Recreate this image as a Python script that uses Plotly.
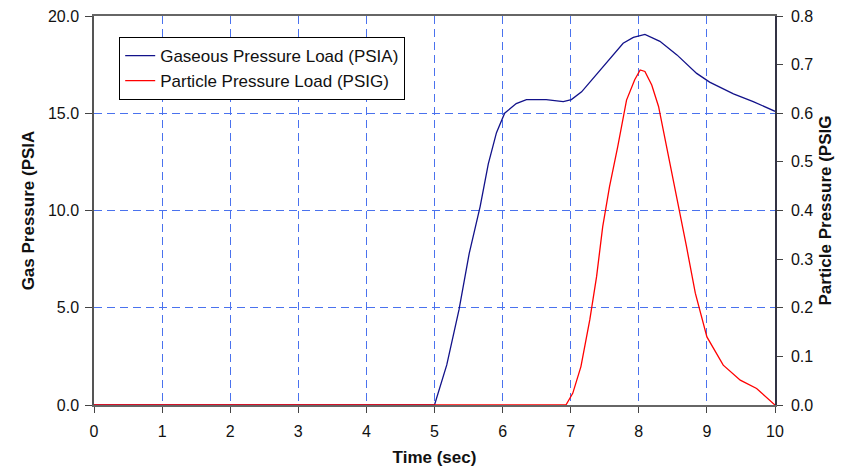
import plotly.graph_objects as go

# Gaseous pressure load (PSIA), left axis
time_gas = [0, 1, 2, 3, 4, 5.0, 5.18, 5.36, 5.51, 5.67, 5.79, 5.91, 6.03, 6.2, 6.35,
            6.64, 6.89, 7.01, 7.16, 7.33, 7.53, 7.77, 7.92, 8.09, 8.31, 8.56, 8.85,
            9.04, 9.39, 9.68, 10]
gas_pressure = [0, 0, 0, 0, 0, 0, 2.06, 4.9, 7.8, 10.2, 12.4, 14.0, 15.0, 15.5, 15.7,
                15.7, 15.6, 15.7, 16.1, 16.8, 17.65, 18.6, 18.9, 19.05, 18.7, 18.0, 17.05,
                16.6, 16.0, 15.6, 15.1]

# Particle pressure load (PSIG), right axis
time_part = [0, 1, 2, 3, 4, 5, 6, 6.93, 7.03, 7.15, 7.28, 7.38, 7.47, 7.57, 7.69, 7.82,
             7.94, 8.02, 8.09, 8.19, 8.29, 8.41, 8.56, 8.70, 8.83, 9.0, 9.24, 9.49,
             9.73, 10]
part_pressure = [0, 0, 0, 0, 0, 0, 0, 0, 0.024, 0.079, 0.175, 0.264, 0.367, 0.449, 0.531,
                 0.627, 0.669, 0.689, 0.686, 0.658, 0.614, 0.531, 0.429, 0.326, 0.23,
                 0.14, 0.082, 0.051, 0.034, 0]

x_ticks = list(range(0, 11))
left_ticks = [0, 5, 10, 15, 20]
left_labels = ["0.0", "5.0", "10.0", "15.0", "20.0"]
right_ticks = [0, 0.1, 0.2, 0.3, 0.4, 0.5, 0.6, 0.7, 0.8]
right_labels = ["0.0", "0.1", "0.2", "0.3", "0.4", "0.5", "0.6", "0.7", "0.8"]

FONT = "Liberation Sans, Arial, sans-serif"
GRID = "#4a72ee"

fig = go.Figure()
fig.add_trace(go.Scatter(x=time_gas, y=gas_pressure, mode="lines",
                         name="Gaseous Pressure Load (PSIA)", legendgroup="g1",
                         line=dict(color="#12128a", width=1.3)))
fig.add_trace(go.Scatter(x=time_part, y=part_pressure, mode="lines",
                         name="Particle Pressure Load (PSIG)", yaxis="y2", legendgroup="g2",
                         line=dict(color="#ff0000", width=1.3)))

fig.update_layout(
    width=843, height=466,
    margin=dict(l=86, r=76, t=8, b=69),
    paper_bgcolor="white", plot_bgcolor="white",
    font=dict(family=FONT, size=16, color="#111"),
    showlegend=True,
    legend=dict(x=0.037, y=0.946, xanchor="left", yanchor="top",
                bgcolor="white", bordercolor="black", borderwidth=1,
                traceorder="grouped", tracegroupgap=0,
                font=dict(size=17, color="#111"), itemwidth=30),
    xaxis=dict(range=[0, 10], tickmode="array", tickvals=x_ticks,
               ticktext=[str(v) for v in x_ticks], automargin=False,
               showgrid=True, gridcolor=GRID, gridwidth=1, griddash="8px,5px",
               showline=True, linecolor="#666", linewidth=1.5, mirror=True,
               ticks="outside", ticklen=6, tickcolor="#444", ticklabelstandoff=5,
               ticklabeloverflow="allow",
               zeroline=False, layer="below traces",
               title=dict(text="<b>Time (sec)</b>", font=dict(size=17, color="#111"),
                          standoff=12)),
    yaxis=dict(range=[0, 20], tickmode="array", tickvals=left_ticks, ticktext=left_labels,
               automargin=False, ticklabeloverflow="allow",
               showgrid=True, gridcolor=GRID, gridwidth=1, griddash="8px,5px",
               showline=True, linecolor="#555", linewidth=1.5,
               ticks="outside", ticklen=7, tickcolor="#444", ticklabelstandoff=3,
               zeroline=False, layer="below traces",
               title=dict(text="<b>Gas Pressure (PSIA</b>", font=dict(size=17, color="#111"),
                          standoff=9)),
    yaxis2=dict(range=[0, 0.8], overlaying="y", side="right", tickmode="array",
                tickvals=right_ticks, ticktext=right_labels, showgrid=False,
                automargin=False, ticklabeloverflow="allow",
                showline=True, linecolor="#333344", linewidth=1.5,
                ticks="outside", ticklen=6, tickcolor="#444", ticklabelstandoff=5,
                zeroline=False, layer="below traces",
                title=dict(text="<b>Particle Pressure (PSIG</b>", font=dict(size=17, color="#111"),
                           standoff=7)),
)

fig.write_html("out.html")
